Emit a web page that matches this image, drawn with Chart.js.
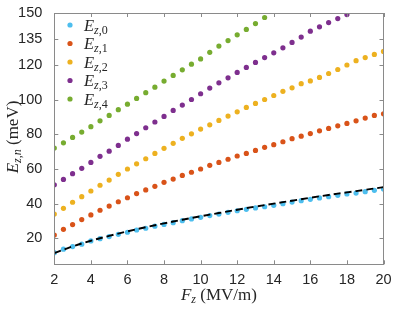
<!DOCTYPE html>
<html>
<head>
<meta charset="utf-8">
<script src="https://cdn.jsdelivr.net/npm/chart.js@4"></script>
<style>
  html, body { margin: 0; padding: 0; background: #fff; }
  #wrap { width: 399px; height: 312px; }
</style>
</head>
<body>
<div id="wrap"><canvas id="myChart" width="399" height="312"></canvas></div>
<script>
// field values (MV/m)
const fz = [2, 2.5, 3, 3.5, 4, 4.5, 5, 5.5, 6, 6.5, 7, 7.5, 8, 8.5, 9, 9.5, 10, 10.5, 11, 11.5,
            12, 12.5, 13, 13.5, 14, 14.5, 15, 15.5, 16, 16.5, 17, 17.5, 18, 18.5, 19, 19.5, 20];

// subband energies (meV)
const ez0 = [11.7, 13.7, 15.2, 16.6, 18.5, 19.8, 21.0, 22.3, 23.5, 24.8, 25.8, 27.0, 28.0, 29.0, 30.2, 31.2, 32.1, 33.1, 34.0, 35.0,
             35.9, 36.7, 37.5, 38.2, 39.0, 40.0, 40.9, 41.7, 42.5, 43.3, 44.0, 44.8, 45.6, 46.1, 46.9, 47.7, 48.4];
const ez1 = [21.9, 25.2, 27.9, 30.8, 33.5, 36.2, 38.6, 41.1, 43.4, 45.8, 47.9, 50.0, 52.3, 54.2, 56.3, 58.1, 60.0, 62.1, 63.8, 65.6,
             67.5, 69.0, 70.7, 72.5, 74.0, 75.7, 77.5, 78.9, 80.4, 82.0, 83.4, 84.9, 86.3, 87.8, 89.4, 90.9, 91.8];
const ez2 = [34.0, 37.3, 40.8, 44.0, 47.3, 50.6, 53.6, 56.9, 60.0, 63.0, 65.9, 69.0, 71.9, 74.8, 77.7, 80.3, 83.0, 85.5, 88.0, 90.5,
             93.0, 95.5, 97.8, 100.1, 102.4, 104.8, 106.8, 109.2, 110.8, 112.8, 115.1, 117.4, 120.0, 122.5, 124.3, 126.1, 127.8];
const ez3 = [50.9, 54.0, 57.3, 60.4, 63.8, 67.3, 70.3, 73.6, 77.2, 80.4, 83.8, 87.1, 90.3, 93.8, 96.9, 100.1, 103.4, 106.7, 109.7, 112.6,
             115.7, 118.6, 121.5, 124.3, 127.0, 129.9, 133.0, 136.1, 139.5, 142.0, 144.5, 146.8, 149.1];
const ez4 = [72.1, 75.1, 78.2, 81.3, 84.4, 87.8, 90.9, 94.2, 97.4, 100.7, 104.0, 107.2, 110.7, 114.0, 117.2, 120.5, 123.5, 127.3, 130.9, 134.1,
             137.4, 140.5, 143.9, 147.4];

// dashed approximation for the ground state
const fzFit = [2, 3, 4, 5, 6, 7, 8, 9, 10, 11, 12, 13, 14, 15, 16, 17, 18, 19, 20];
const ezFit = [11.4, 15.3, 18.6, 21.4, 24.0, 26.4, 28.6, 30.7, 32.7, 34.6, 36.5, 38.3, 40.0, 41.7, 43.4, 45.0, 46.5, 48.0, 49.5];

const xTicks = [2, 4, 6, 8, 10, 12, 14, 16, 18, 20];
const yTicks = [20, 40, 60, 80, 100, 120, 135, 150];

const seriesNames = ['0', '1', '2', '3', '4'];
const seriesColors = ['#4DBEEE', '#D95319', '#EDB120', '#7E2F8E', '#77AC30'];
const seriesValues = [ez0, ez1, ez2, ez3, ez4];

const toPoints = (xs, ys) => ys.map((y, i) => ({x: xs[i], y: y}));

const datasets = seriesValues.map((vals, i) => ({
    label: 'E_z,' + seriesNames[i],
    data: toPoints(fz, vals),
    showLine: false,
    pointRadius: 2.6,
    pointBorderWidth: 0,
    pointBackgroundColor: seriesColors[i],
    backgroundColor: seriesColors[i],
    order: 2
}));
datasets.push({
    label: 'fit',
    data: toPoints(fzFit, ezFit),
    showLine: true,
    borderColor: '#000',
    borderWidth: 1.9,
    borderDash: [7, 4],
    pointRadius: 0,
    tension: 0.4,
    order: 0
});

const serif = '"Liberation Serif", "DejaVu Serif", serif';

// draws runs of text, some italic / subscripted
function drawMath(ctx, parts, x, y, align) {
    let total = 0;
    parts.forEach(p => {
        ctx.font = (p.it ? 'italic ' : '') + p.size + 'px ' + serif;
        p.w = ctx.measureText(p.t).width;
        total += p.w;
    });
    let cx = align === 'center' ? x - total / 2 : x;
    ctx.textBaseline = 'alphabetic';
    ctx.textAlign = 'left';
    parts.forEach(p => {
        ctx.font = (p.it ? 'italic ' : '') + p.size + 'px ' + serif;
        ctx.fillText(p.t, cx, y + (p.dy || 0));
        cx += p.w;
    });
}

const decorations = {
    id: 'decorations',
    afterDraw(chart) {
        const ctx = chart.ctx;
        const a = chart.chartArea;
        const xs = chart.scales.x, ys = chart.scales.y;
        ctx.save();
        // box + inward ticks
        ctx.strokeStyle = '#8a8a8a';
        ctx.lineWidth = 1;
        ctx.strokeRect(Math.round(a.left) + 0.5, Math.round(a.top) + 0.5,
                       Math.round(a.right - a.left), Math.round(a.bottom - a.top));
        const tl = 4;
        ctx.beginPath();
        xTicks.forEach(v => {
            const px = Math.round(xs.getPixelForValue(v)) + 0.5;
            ctx.moveTo(px, a.bottom); ctx.lineTo(px, a.bottom - tl);
            ctx.moveTo(px, a.top); ctx.lineTo(px, a.top + tl);
        });
        yTicks.forEach(v => {
            const py = Math.round(ys.getPixelForValue(v)) + 0.5;
            ctx.moveTo(a.left, py); ctx.lineTo(a.left + tl, py);
            ctx.moveTo(a.right, py); ctx.lineTo(a.right - tl, py);
        });
        ctx.stroke();

        ctx.fillStyle = '#262626';
        // legend
        seriesNames.forEach((n, i) => {
            const ly = 25 + 18.5 * i;
            ctx.fillStyle = seriesColors[i];
            ctx.beginPath();
            ctx.arc(70, ly, 2.6, 0, Math.PI * 2);
            ctx.fill();
            ctx.fillStyle = '#262626';
            drawMath(ctx, [
                {t: 'E', it: true, size: 16.5},
                {t: 'z', it: true, size: 12, dy: 3},
                {t: ',' + n, it: false, size: 12, dy: 3}
            ], 84, ly + 5.5, 'left');
        });

        // x title
        drawMath(ctx, [
            {t: 'F', it: true, size: 17},
            {t: 'z', it: true, size: 12, dy: 3},
            {t: ' (MV/m)', it: false, size: 17}
        ], (a.left + a.right) / 2, 300, 'center');

        // y title
        ctx.translate(17.5, 137);
        ctx.rotate(-Math.PI / 2);
        drawMath(ctx, [
            {t: 'E', it: true, size: 17},
            {t: 'z,n', it: true, size: 12, dy: 3},
            {t: ' (meV)', it: false, size: 17}
        ], 0, 0, 'center');
        ctx.restore();
    }
};

const tickFont = {family: '"Liberation Sans", Arial, sans-serif', size: 14.5};

const config = {
    type: 'scatter',
    data: {datasets},
    options: {
        responsive: false,
        animation: false,
        layout: {padding: {top: 13, right: 15.5, left: 0, bottom: 0}},
        plugins: {legend: {display: false}, tooltip: {enabled: false}},
        scales: {
            x: {
                type: 'linear',
                min: 2, max: 20,
                grid: {display: false},
                border: {display: false},
                afterBuildTicks: s => { s.ticks = xTicks.map(v => ({value: v})); },
                afterFit: s => { s.height = 47.7; },
                ticks: {font: tickFont, color: '#262626', padding: -1, maxRotation: 0}
            },
            y: {
                type: 'linear',
                min: 5, max: 150,
                grid: {display: false},
                border: {display: false},
                afterBuildTicks: s => { s.ticks = yTicks.map(v => ({value: v})); },
                afterFit: s => { s.width = 54.3; },
                ticks: {font: tickFont, color: '#262626', padding: 4}
            }
        }
    },
    plugins: [decorations]
};

const myChart = new Chart(document.getElementById('myChart'), config);
</script>
</body>
</html>
